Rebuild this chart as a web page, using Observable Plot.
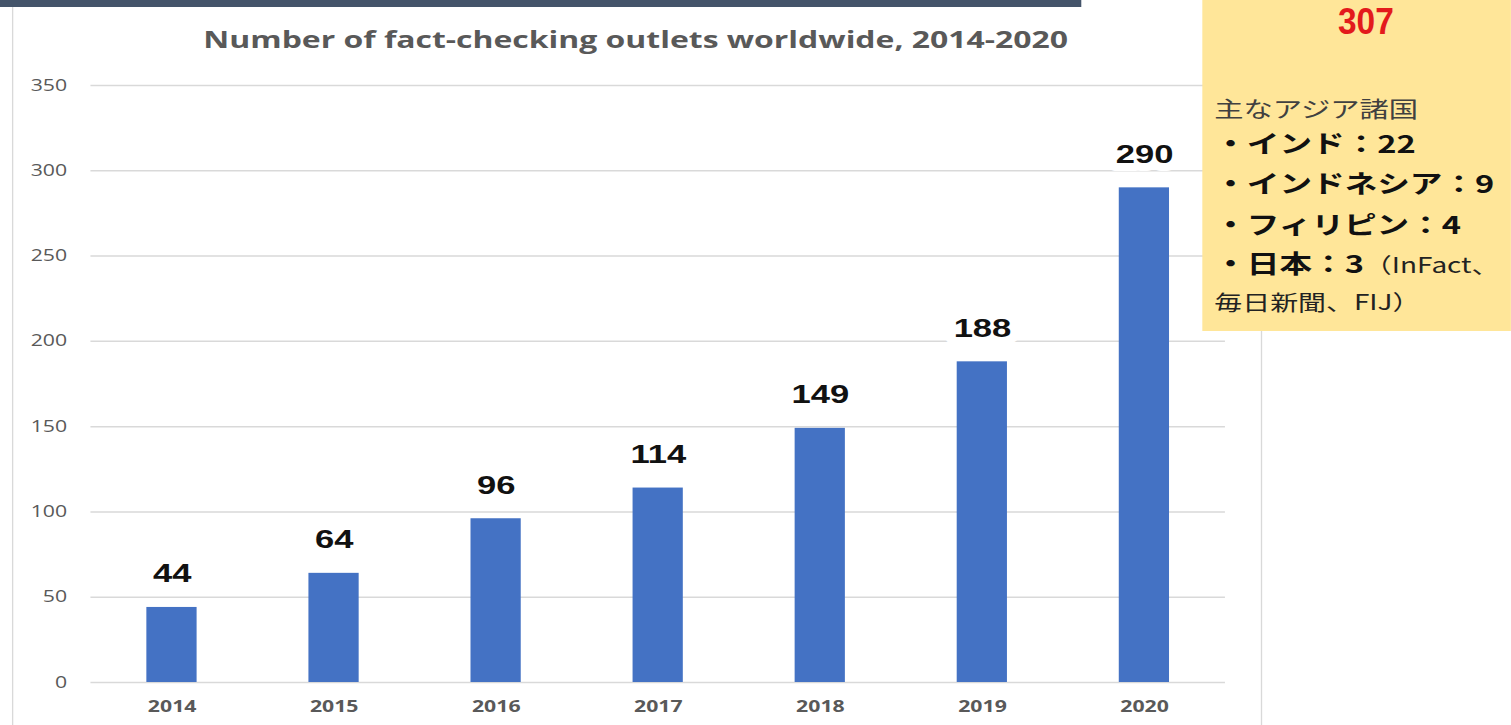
<!DOCTYPE html>
<html><head><meta charset="utf-8">
<script src="https://cdn.jsdelivr.net/npm/d3@7"></script>
<script src="https://cdn.jsdelivr.net/npm/@observablehq/plot@0.6"></script>
<style>
html,body{margin:0;padding:0;background:#fff;overflow:hidden;width:1511px;height:725px}
#wrap{position:absolute;left:0;top:0;width:1136px;height:725px;transform:scaleX(1.33);transform-origin:0 0}
#topbar{position:absolute;left:0;top:0;width:813px;height:7px;background:#44546a}
#frameL{position:absolute;left:9px;top:7px;width:1px;height:718px;background:#d9d9d9}
#frameR{position:absolute;left:948px;top:7px;width:1px;height:718px;background:#d9d9d9}
#chart{position:absolute;left:0;top:0}
#title{position:absolute;left:0;top:27px;width:956px;text-align:center;font-family:"Open Sans",sans-serif;font-weight:700;font-size:24px;line-height:24px;color:#595959;white-space:nowrap}
#note{position:absolute;left:904px;top:0;width:232px;height:331px;background:#ffe699;font-family:"Noto Sans CJK JP",sans-serif;color:#111}
#total{position:absolute;left:0;width:246px;top:3px;text-align:center;font-family:"Liberation Sans",Arial,sans-serif;font-weight:700;font-size:37px;line-height:37px;color:#e31a1c;transform:scaleX(0.68);transform-origin:123px 0}
.ln{position:absolute;left:9px;white-space:nowrap;line-height:30px}
.hd{font-size:22px;font-weight:400;color:#404040}
.b{font-size:24.5px;font-weight:700}
.n{font-size:21px;font-weight:400;color:#222}
</style></head><body>
<div id="wrap">
  <div id="topbar"></div>
  <div id="frameL"></div>
  <div id="frameR"></div>
  <div id="chart"></div>
  <div id="title"></div>
  <div id="note"></div>
</div>
<script>
// ---- data ----
const years = ["2014", "2015", "2016", "2017", "2018", "2019", "2020"];
const outlets = [44, 64, 96, 114, 149, 188, 290];
const yTicks = [0, 50, 100, 150, 200, 250, 300, 350];
const titleText = "Number of fact-checking outlets worldwide, 2014-2020";
const totalOutlets = 307;
const asiaHeading = "主なアジア諸国";
const asiaCountries = ["インド", "インドネシア", "フィリピン", "日本"];
const asiaCounts = [22, 9, 4, 3];
const japanOutlets = ["InFact", "毎日新聞", "FIJ"];

// ---- chart ----
const data = years.map((year, i) => ({year, count: outlets[i]}));
const chart = Plot.plot({
  width: 932, height: 725,
  marginLeft: 68, marginRight: 11, marginTop: 85, marginBottom: 43,
  style: {background: "transparent", fontFamily: "'Open Sans', sans-serif", color: "#595959", overflow: "visible"},
  x: {domain: years, paddingInner: 0.69, paddingOuter: 0.345, round: false, label: null},
  y: {domain: [0, 350], label: null},
  marks: [
    Plot.gridY(yTicks, {stroke: "#d9d9d9", strokeOpacity: 1, strokeWidth: 1.5}),
    Plot.barY(data, {x: "year", y: "count", fill: "#4472c4"}),
    Plot.text(data, {x: "year", y: "count", text: d => String(d.count), dy: -25, lineAnchor: "bottom",
      fontSize: 26, fontWeight: "bold", fontFamily: "'Liberation Sans', Arial, sans-serif",
      fill: "#111", stroke: "white", strokeWidth: 16, strokeLinejoin: "round", paintOrder: "stroke"}),
    Plot.axisY(yTicks, {tickSize: 0, tickPadding: 18, fontSize: 16, fill: "#595959", label: null}),
    Plot.axisX({tickSize: 0, tickPadding: 18, fontSize: 16, fontWeight: "bold", fill: "#595959", label: null})
  ]
});
document.getElementById("chart").appendChild(chart);
document.getElementById("title").textContent = titleText;

// ---- note box ----
const note = document.getElementById("note");
const tot = document.createElement("div");
tot.id = "total"; tot.textContent = String(totalOutlets);
note.appendChild(tot);
const lineTops = [92, 128, 168, 209, 248, 286];
function addLine(top, parts) {
  const d = document.createElement("div");
  d.className = "ln"; d.style.top = top + "px";
  parts.forEach(([cls, txt]) => {
    const s = document.createElement("span");
    s.className = cls; s.textContent = txt; d.appendChild(s);
  });
  note.appendChild(d);
}
addLine(lineTops[0], [["hd", asiaHeading]]);
asiaCountries.forEach((c, i) => {
  const parts = [["b", "・" + c + "：" + asiaCounts[i]]];
  if (c === "日本") parts.push(["n", "（" + japanOutlets[0] + "、"]);
  addLine(lineTops[i + 1], parts);
});
addLine(lineTops[5], [["n", japanOutlets[1] + "、" + japanOutlets[2] + "）"]]);
</script>
</body></html>
